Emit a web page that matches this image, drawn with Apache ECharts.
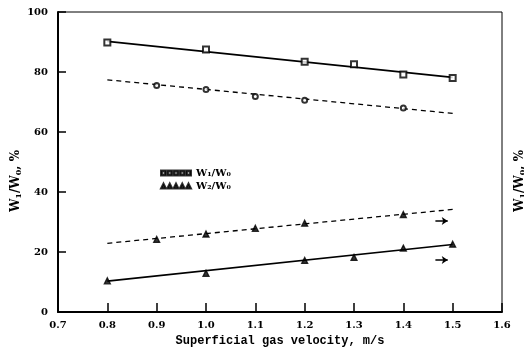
<!DOCTYPE html>
<html><head><meta charset="utf-8">
<script src="https://cdn.jsdelivr.net/npm/echarts@6/dist/echarts.min.js"></script>
<style>html,body{margin:0;padding:0;background:#fff}#c{width:524px;height:347px}</style>
</head><body><div id="c"></div>
<script>
// measured points
const w1Solid = [[0.8,89.8],[1.0,87.5],[1.2,83.4],[1.3,82.6],[1.4,79.2],[1.5,78.0]];
const w1Dashed = [[0.9,75.5],[1.0,74.2],[1.1,71.8],[1.2,70.6],[1.4,68.0]];
const w2Dashed = [[0.9,24.2],[1.0,26.0],[1.1,27.9],[1.2,29.6],[1.4,32.5]];
const w2Solid = [[0.8,10.4],[1.0,12.9],[1.2,17.2],[1.3,18.2],[1.4,21.3],[1.5,22.6]];
// fitted lines (end points)
const fitW1Solid = [[0.8,90.2],[1.5,78.2]];
const fitW1Dashed = [[0.8,77.4],[1.5,66.2]];
const fitW2Dashed = [[0.8,22.9],[1.5,34.2]];
const fitW2Solid = [[0.8,10.3],[1.5,22.5]];
// arrows
const arrows = [[[1.465,30.3],[1.49,30.3]],[[1.465,17.3],[1.49,17.3]]];
const xTicks = {min:0.7, max:1.6, interval:0.1};
const yTicks = {min:0, max:100, interval:20};

const font = 'DejaVu Serif';
const chart = echarts.init(document.getElementById('c'));
const sqPath = 'path://' + [0,6.25,12.5,18.75,25].map(x=>`M${x},0h5v5h-5zM${x+1},1v3h3v-3z`).join('');
const triPath = 'path://' + [0,6.25,12.5,18.75,25].map(x=>`M${x},5L${x+2.5},0L${x+5},5z`).join('');
const rich = {s:{fontSize:8, fontWeight:'bold', fontFamily:font, verticalAlign:'bottom', padding:[6,0,0,0]}};
function lineSeries(name, d, dashed){
  return {name, type:'line', data:d, symbol:'none', silent:true,
    lineStyle:{color:'#000', width: dashed?1.3:1.6, type: dashed?[5,4]:'solid'}, z:2};
}
function pts(name, d, sym, size){
  return {name, type:'scatter', data:d, symbol:sym, symbolSize:size,
    itemStyle:{color:'#000', borderColor:'#000', borderWidth:1.3}, z:3};
}
function yTitle(x){
  return {type:'text', x, y:181, rotation:Math.PI/2,
    style:{text:'W{s|1}/W{s|0}, %', rich, font:'bold 12px "DejaVu Serif"', fill:'#000',
      align:'center', verticalAlign:'top'}};
}
chart.setOption({
  animation:false,
  backgroundColor:'#fff',
  grid:{left:58, right:22, top:12, bottom:35, show:true, borderColor:'#000', borderWidth:1,
    containLabel:false, outerBoundsMode:'none'},
  legend:{left:155, top:163, orient:'vertical', itemGap:3, itemWidth:30, itemHeight:6,
    selectedMode:false,
    textStyle:{fontFamily:font, fontWeight:'bold', fontSize:10, color:'#000'},
    data:[{name:'W₁/W₀', icon:sqPath},{name:'W₂/W₀', icon:triPath}]},
  xAxis:{type:'value', min:xTicks.min, max:xTicks.max, interval:xTicks.interval,
    name:'Superficial gas velocity, m/s', nameLocation:'middle', nameGap:21,
    nameTextStyle:{fontFamily:'Liberation Mono', fontWeight:'bold', fontSize:12, color:'#000'},
    axisLine:{lineStyle:{color:'#000', width:2}},
    axisTick:{inside:true, length:9, lineStyle:{color:'#000', width:1.5}},
    axisLabel:{fontFamily:font, fontWeight:'bold', fontSize:10, color:'#000', margin:8,
      formatter:v=>v.toFixed(1)},
    splitLine:{show:false}},
  yAxis:{type:'value', min:yTicks.min, max:yTicks.max, interval:yTicks.interval,
    axisLine:{lineStyle:{color:'#000', width:2}},
    axisTick:{inside:true, length:8, lineStyle:{color:'#000', width:1.5}},
    axisLabel:{fontFamily:font, fontWeight:'bold', fontSize:10, color:'#000', margin:10},
    splitLine:{show:false}},
  graphic:[yTitle(9), yTitle(513)],
  series:[
    lineSeries('fit1', fitW1Solid, false),
    lineSeries('fit2', fitW1Dashed, true),
    lineSeries('fit3', fitW2Dashed, true),
    lineSeries('fit4', fitW2Solid, false),
    pts('W₁/W₀', w1Solid, 'emptyRect', 6),
    pts('W₁/W₀ b', w1Dashed, 'emptyCircle', 5),
    pts('W₂/W₀', w2Solid, 'triangle', 6),
    pts('W₂/W₀ b', w2Dashed, 'triangle', 6),
    {name:'arrows', type:'line', data:[], silent:true,
      markLine:{silent:true, symbol:['none','arrow'], symbolSize:[6,6], label:{show:false},
        lineStyle:{color:'#000', width:1.5, type:'solid'},
        data: arrows.map(a=>[{coord:a[0]},{coord:a[1]}])}}
  ]
});
</script></body></html>
